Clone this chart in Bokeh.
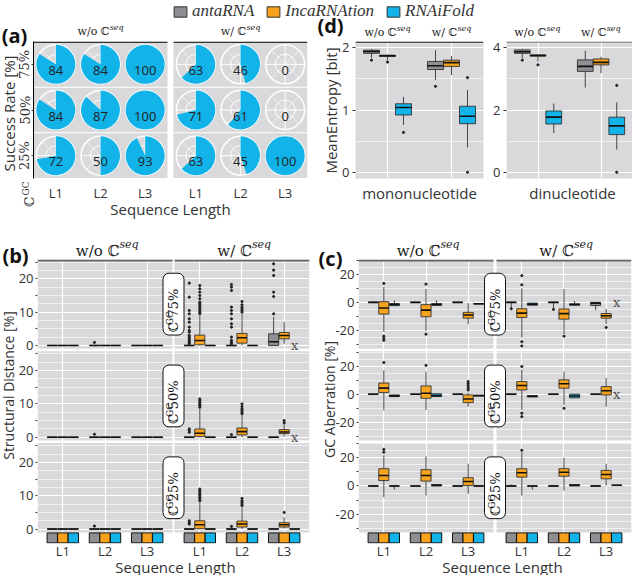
import math
from bokeh.plotting import figure
from bokeh.models import (ColumnDataSource, FixedTicker, Label, Legend, LegendItem,
                          Range1d, Span, GridBox)
from bokeh.layouts import column, row
from bokeh.core.properties import value
from bokeh.embed import file_html
from bokeh.resources import INLINE

SANS = "Open Sans"
SERIF = "DejaVu Serif"
ITALIC_SERIF = "Liberation Serif"
INK = "#333333"
PANEL = "#d9d9db"

# ---------------------------------------------------------------- data
TOOLS = ["antaRNA", "IncaRNAtion", "RNAiFold"]
TOOL_COLORS = ["#8e8e93", "#f6a21d", "#12b3e8"]
CGC_LEVELS = ["75%", "50%", "25%"]
SEQ_LEVELS = ["w/o", "w/"]
LENGTHS = ["L1", "L2", "L3"]

# (a) RNAiFold success rate [%]; order: w/o L1..L3, w/ L1..L3
SUCCESS_75 = [84, 84, 100, 63, 46, 0]
SUCCESS_50 = [84, 87, 100, 71, 61, 0]
SUCCESS_25 = [72, 50, 93, 63, 45, 100]

# (d) mean entropy [bit]; order: w/o (anta, inca, rnai), w/ (anta, inca, rnai)
ENTROPY_KINDS = ["mononucleotide", "dinucleotide"]
MONO_Q1 = [1.91, 1.86, 0.92, 1.65, 1.70, 0.78]
MONO_MED = [1.94, 1.87, 1.04, 1.71, 1.76, 0.90]
MONO_Q3 = [1.96, 1.88, 1.10, 1.78, 1.80, 1.06]
MONO_LO = [1.84, 1.80, 0.76, 1.48, 1.56, 0.40]
MONO_HI = [1.98, 1.89, 1.21, 1.96, 1.87, 1.32]
MONO_OUT = [[1.80], [1.77], [0.64], [1.38], [], [1.52, 0.0]]
DI_Q1 = [3.82, 3.73, 1.55, 3.24, 3.45, 1.21]
DI_MED = [3.87, 3.75, 1.77, 3.40, 3.53, 1.49]
DI_Q3 = [3.93, 3.77, 1.97, 3.61, 3.64, 1.77]
DI_LO = [3.66, 3.55, 1.26, 2.72, 3.18, 0.73]
DI_HI = [3.96, 3.78, 2.21, 3.90, 3.71, 2.24]
DI_OUT = [[3.60], [3.45], [], [], [], [2.79, 0.0]]

# (b) structural distance [%]: (q1, median, q3, lower, upper) per
# w/o L1 (anta, inca, rnai), L2, L3, then w/ L1, L2, L3 ; None = no data
Z = (0, 0, 0, 0, 0)
DIST_75 = [Z, Z, Z, Z, Z, Z, Z, Z, Z,
           Z, (0.2, 1.5, 3.1, 0, 9.0), Z,
           Z, (0.7, 2.3, 3.6, 0, 9.5), Z,
           (0, 1.1, 3.5, 0, 8.5), (2.0, 3.0, 3.9, 0.5, 7.0), None]
DIST_50 = [Z, Z, Z, Z, Z, Z, Z, Z, Z,
           Z, (0.2, 1.2, 2.5, 0, 8.5), Z,
           Z, (0.7, 1.7, 2.8, 0, 6.5), Z,
           Z, (1.1, 1.6, 2.3, 0.2, 3.8), None]
DIST_25 = [Z, Z, Z, Z, Z, Z, Z, Z, Z,
           Z, (0.1, 1.3, 2.5, 0, 8.0), Z,
           Z, (0.6, 1.5, 2.4, 0, 6.5), Z,
           Z, (0.6, 1.3, 1.9, 0.2, 3.5), Z]
DIST_75_OUT = {3: [0.9],
               9: [0.5, 1, 1.5, 2, 2.5, 3, 4, 4.5, 5.5, 7, 8, 9.5, 10.5, 14.5, 18.7],
               10: [9.5, 10, 10.5, 11, 11.5, 12, 12.5, 13, 14, 15, 16, 17, 18],
               12: [0.5, 1, 1.5, 2.5, 5.5, 6.5, 8, 9.5, 10.5, 11.5, 16.5, 17.5, 18.3],
               13: [10, 10.5, 11, 11.5, 12.2, 13.2],
               15: [9.5, 14.7, 16, 21, 22.6, 24.5]}
DIST_50_OUT = {3: [0.9], 9: [1.5, 2, 2.5], 10: [9, 9.5, 10, 10.5, 11, 11.5],
               12: [0.8], 13: [7, 7.5, 8, 8.5, 9.2, 10], 16: [4.3, 5]}
DIST_25_OUT = {3: [0.9], 9: [1.5, 2, 2.5], 10: [8.5, 9, 9.5, 10, 10.5, 11, 11.5, 12],
               12: [0.8], 13: [7, 7.5, 8, 8.5, 9.2], 16: [5]}

# (c) GC aberration [%], same layout as (b)
GC_75 = [Z, (-8.3, -4.0, 0.5, -21, 11), (-2.3, -1.5, -0.8, -2.5, 1.5),
         Z, (-10.2, -5.5, -1.6, -20.2, 9.5), (-2.2, -1.5, -0.8, -2.3, 1.5),
         Z, (-11.2, -9.0, -7.1, -15.5, -0.5), (-1.2, -1.0, -0.8, -1.2, -0.8),
         (0, 0, 0, -3.5, 0), (-10.7, -7.6, -4.5, -25, 10), (-2.0, -1.2, -0.5, -2.0, -0.5),
         (0, 0, 0, -4.0, 0), (-11.9, -8.0, -4.7, -22.6, 9.5), (-2.0, -1.5, -1.0, -2.0, 1.0),
         (-2.2, -0.5, 0, -5.5, 0), (-11.2, -9.5, -7.9, -15.5, -4.7), None]
GC_50 = [Z, (1.1, 4.3, 7.9, -11.5, 17), (-1.7, -1.2, -0.5, -1.7, -0.5),
         Z, (-2.9, 0.7, 5.9, -11.2, 16), (-1.7, -1.0, 0.3, -1.7, 0.3),
         Z, (-6.0, -3.4, -0.5, -8.9, 1.0), (-1.2, -1.0, -0.8, -1.2, -0.8),
         Z, (3.0, 6.2, 9.0, -11.2, 17.4), (-2.0, -1.5, -1.0, -2.0, -1.0),
         Z, (4.3, 7.4, 10.2, -7.6, 16), (-2.6, -1.3, 0, -2.6, 0),
         Z, (-0.5, 2.4, 5.4, -8.9, 11.4), None]
GC_25 = [Z, (3.9, 7.5, 12.3, -8.0, 21.8), (0, 0, 0, -2.5, 0),
         Z, (3.5, 7.5, 11.6, -6.8, 21.0), (0, 0.5, 1.0, 0, 1.0),
         Z, (0.4, 3.2, 5.9, -5.6, 15.8), Z,
         (0, 0, 0, 0, 1.0), (6.3, 9.4, 12.3, -6.8, 24.0), (0, 0, 0, -2.5, 0),
         Z, (7.0, 9.8, 12.3, -3.2, 20.1), (0, 0.5, 1.0, 0, 1.0),
         Z, (5.1, 8.2, 11.1, 0.3, 15.8), (0.5, 0.5, 0.5, 0.5, 0.5)]
GC_75_OUT = {1: [13.5, -24, -25.5, -27], 4: [13, -22.6], 9: [-4.5],
             10: [12.5, 19, -28, -31], 12: [-5], 13: [-24], 16: [-17.8]}
GC_50_OUT = {1: [22.5], 4: [20.5], 7: [3, 4.5, 6, 7.5, 9], 10: [19.7, -13.5, -16],
             13: [-10]}
GC_25_OUT = {1: [24, 26], 10: [25.4]}

PAGE_W, PAGE_H = 632, 575


# ---------------------------------------------------------------- helpers
class Geo:
    """maps between page pixels and data coordinates of one figure"""
    def __init__(self, page_left, page_top, fl, ft, fw, fh, xr, yr):
        self.pl, self.pt, self.fl, self.ft, self.fw, self.fh = page_left, page_top, fl, ft, fw, fh
        self.xr, self.yr = xr, yr
        self.kx = fw / (xr[1] - xr[0])
        self.ky = fh / (yr[1] - yr[0])

    def page_x(self, xd):
        return self.pl + self.fl + (xd - self.xr[0]) * self.kx


def make_fig(w, h, g, br, bb):
    p = figure(width=w, height=h, x_range=Range1d(*g.xr), y_range=Range1d(*g.yr),
               output_backend="svg", toolbar_location=None,
               min_border_left=g.fl, min_border_top=g.ft,
               min_border_right=br, min_border_bottom=bb)
    p.outline_line_color = None
    p.background_fill_color = "white"
    p.border_fill_color = "white"
    for ax in (p.xaxis, p.yaxis):
        ax.major_label_text_font = SANS
        ax.major_label_text_font_size = "13px"
        ax.major_label_text_color = INK
        ax.minor_tick_line_color = None
        ax.major_tick_in = 0
        ax.major_tick_out = 3
        ax.major_tick_line_color = INK
        ax.axis_line_color = None
    return p


def label(p, x, y, text, size, font=SANS, style="normal", angle=0.0, align="center",
          baseline="middle", color=INK, **kw):
    lab = Label(x=x, y=y, text=text, angle=angle, text_align=align, text_baseline=baseline,
                text_font=font, text_font_size=f"{size}px", text_font_style=style,
                text_color=color, **kw)
    p.add_layout(lab)
    return lab


def draw_boxes(p, xs, w, stats, colors, out_x, out_y):
    src = ColumnDataSource(dict(
        x=xs, l=[x - w / 2 for x in xs], r=[x + w / 2 for x in xs],
        q1=[s[0] for s in stats], med=[s[1] for s in stats], q3=[s[2] for s in stats],
        lo=[s[3] for s in stats], hi=[s[4] for s in stats], c=colors))
    p.segment(x0="x", y0="lo", x1="x", y1="hi", source=src, line_color=INK, line_width=0.9)
    p.vbar(x="x", width=w, top="q3", bottom="q1", source=src, fill_color="c",
           line_color=INK, line_width=0.9)
    p.segment(x0="l", y0="med", x1="r", y1="med", source=src, line_color="#111111",
              line_width=1.6)
    if out_x:
        p.scatter(out_x, out_y, size=2.2, color="#222222")


def cgc_box(p, g, x, y, pct):
    label(p, x, y, "\u2102    " + pct, 13, font=SERIF, angle=math.pi / 2, color="#111111",
          background_fill_color="white", border_line_color="#111111", border_line_width=1,
          padding=3, border_radius=6)
    label(p, x - 3.5 / g.kx, y - 14.0 / g.ky, "GC", 9, font=SERIF, angle=math.pi / 2,
          color="#111111")


# ---------------------------------------------------------------- overlay for free texts
ov = figure(width=PAGE_W, height=PAGE_H, x_range=Range1d(0, PAGE_W),
            y_range=Range1d(PAGE_H, 0), x_axis_type=None, y_axis_type=None,
            output_backend="svg", toolbar_location=None, min_border=0)
ov.outline_line_color = None
ov.background_fill_alpha = 0
ov.border_fill_alpha = 0


def strip(xc, y, prefix, size):
    pre_w = (2.84 if prefix == "w/o" else 2.24) * size
    sup_w = 1.25 * size
    total = pre_w + 1 + sup_w
    label(ov, xc - total / 2, y, prefix + " \u2102", size, font=SERIF, align="left",
          color="#222222")
    label(ov, xc - total / 2 + pre_w + 1, y - 0.38 * size, "seq", round(size * 0.72),
          font=SERIF, style="italic", align="left", color="#222222")


items = []
for t, c in zip(TOOLS, TOOL_COLORS):
    r = ov.rect(x=[-1000], y=[-1000], width=1, height=1, fill_color=c, line_color=INK,
                line_width=1)
    items.append(LegendItem(label=t, renderers=[r]))
legend = Legend(items=items, orientation="horizontal", location=(172, PAGE_H - 22),
                glyph_width=16, glyph_height=13, label_standoff=4, spacing=11, padding=0,
                margin=0, label_height=22, label_text_font=ITALIC_SERIF,
                label_text_font_style="italic", label_text_font_size="17px",
                label_text_color="#333333", background_fill_alpha=0, border_line_alpha=0)
ov.add_layout(legend)

# ---------------------------------------------------------------- (a)
ga = Geo(0, 0, 33, 41, 274, 137, (0.5, 0.5 + 274 / (134 / 3)), (0.5, 3.5))
pa = make_fig(316, 225, ga, 9, 47)
A_GAP = 6 / ga.kx
a_cols = [round(1 + l + f * (3 + A_GAP), 4) for f in range(2) for l in range(3)]
a_rows = [3, 2, 1]
half = 22.3 / ga.ky
pa.quad(left=[0.5 + f * (3 + A_GAP) for r in a_rows for f in range(2)],
        right=[3.5 + f * (3 + A_GAP) for r in a_rows for f in range(2)],
        bottom=[r - half for r in a_rows for f in range(2)],
        top=[r + half for r in a_rows for f in range(2)],
        fill_color=PANEL, line_color=None)
pa.segment(x0=[0.5 + f * (3 + A_GAP) for f in range(2)], x1=[3.5 + f * (3 + A_GAP) for f in range(2)],
           y0=[3.5 - 0.6 / ga.ky] * 2, y1=[3.5 - 0.6 / ga.ky] * 2, line_color="black", line_width=1.2)
pie_x, pie_y, pie_v = [], [], []
for r, vals in zip(a_rows, [SUCCESS_75, SUCCESS_50, SUCCESS_25]):
    for j, v in enumerate(vals):
        pie_x.append(a_cols[j]); pie_y.append(r); pie_v.append(v)
R = 19.5
pa.circle(pie_x, pie_y, radius=R, radius_units="screen", fill_color=None,
          line_color="white", line_width=1.5)
pa.circle(pie_x, pie_y, radius=10, radius_units="screen", fill_color=None,
          line_color="white", line_width=1)
for k in range(8):
    pa.ray(pie_x, pie_y, length=R, length_units="screen", angle=k * math.pi / 4,
           line_color="white", line_width=1.0 if k % 2 == 0 else 0.6)
wx = [x for x, v in zip(pie_x, pie_v) if v > 0]
wy = [y for y, v in zip(pie_y, pie_v) if v > 0]
wv = [v for v in pie_v if v > 0]
pa.wedge(wx, wy, radius=R, radius_units="screen", start_angle=math.pi / 2,
         end_angle=[math.pi / 2 - 2 * math.pi * min(v, 99.999) / 100 for v in wv],
         direction="clock", fill_color=TOOL_COLORS[2], line_color=None)
pa.text(pie_x, [y - 6 / ga.ky for y in pie_y], text=[str(v) for v in pie_v],
        text_font=value(SANS), text_font_size="13px", text_color="#222222",
        text_align="center", text_baseline="middle")
pa.grid.visible = False
pa.yaxis.ticker = FixedTicker(ticks=a_rows)
pa.yaxis.major_label_overrides = {3: "75%", 2: "50%", 1: "25%"}
pa.yaxis.major_label_orientation = "vertical"
pa.yaxis.major_label_text_font = SERIF
pa.yaxis.major_tick_out = 2
pa.yaxis.major_label_standoff = -1
pa.yaxis.axis_line_color = "black"
pa.xaxis.ticker = FixedTicker(ticks=a_cols)
pa.xaxis.major_label_overrides = {c: LENGTHS[i % 3] for i, c in enumerate(a_cols)}
pa.xaxis.major_tick_line_color = None
pa.xaxis.major_tick_out = 0
pa.xaxis.major_label_standoff = 5
for f, pre in enumerate(SEQ_LEVELS):
    strip(ga.page_x(2 + f * (3 + A_GAP)), 31, pre, 11)
label(ov, 14, 35, "(a)", 20, style="bold", color="#111111")
label(ov, 8, 113, "Success Rate [%]", 15, angle=math.pi / 2)
label(ov, 170, 208, "Sequence Length", 15)
label(ov, 29, 201, "\u2102", 13, font=SERIF, angle=math.pi / 2)
label(ov, 25.5, 188, "GC", 9, font=SERIF, angle=math.pi / 2)


# ---------------------------------------------------------------- (d)
def entropy_fig(g, w, br, q1, med, q3, lo, hi, outs, ticks, minor, strip_col):
    p = make_fig(w, 225, g, br, 45)
    p.background_fill_color = PANEL
    p.xaxis.visible = False
    p.xgrid.ticker = FixedTicker(ticks=[1, 2])
    t = FixedTicker(ticks=ticks, minor_ticks=minor)
    p.yaxis.ticker = t
    p.ygrid.ticker = t
    p.yaxis.major_label_standoff = 2
    p.grid.grid_line_color = "white"
    p.grid.grid_line_width = 1.2
    p.ygrid.minor_grid_line_color = "white"
    p.ygrid.minor_grid_line_width = 0.6
    xs = [g_ + (t_ - 1) * 0.25 for g_ in (1, 2) for t_ in range(3)]
    ox, oy = [], []
    for x, o in zip(xs, outs):
        ox += [x] * len(o); oy += o
    draw_boxes(p, xs, 0.25, list(zip(q1, med, q3, lo, hi)), TOOL_COLORS * 2, ox, oy)
    p.add_layout(Span(location=g.yr[1] - 0.6 / g.ky, dimension="width",
                      line_color=strip_col, line_width=1.4))
    for f, pre in enumerate(SEQ_LEVELS):
        strip(g.page_x(1 + f), 32, pre, 11)
    return p


gd1 = Geo(316, 0, 39, 41, 128, 139, (0.5, 2.5), (-0.1, 2.1))
pd1 = entropy_fig(gd1, 174, 7, MONO_Q1, MONO_MED, MONO_Q3, MONO_LO, MONO_HI, MONO_OUT,
                  [0, 1, 2], [0.5, 1.5], "#222222")
gd2 = Geo(490, 0, 15, 41, 127, 139, (0.5, 2.5), (-0.2, 4.2))
pd2 = entropy_fig(gd2, 142, 0, DI_Q1, DI_MED, DI_Q3, DI_LO, DI_HI, DI_OUT,
                  [0, 2, 4], [1, 3], "#808080")
label(ov, 330, 25, "(d)", 20, style="bold", color="#111111")
label(ov, 330, 110, "MeanEntropy [bit]", 15, angle=math.pi / 2)
label(ov, 419, 192, ENTROPY_KINDS[0], 15)
label(ov, 572, 192, ENTROPY_KINDS[1], 15)


# ---------------------------------------------------------------- (b), (c)
def facet_panel(page_left, fl, fw, br, gap_px, lims, rows, outs, axis_ticks, labeled,
                minor_step):
    lo, hi = lims
    RH, RG, fh = 89.3, 2.5, 284
    SB = fh - 3 * RH - 2 * RG
    ky = RH / (hi - lo)
    P = (RH + RG) / ky
    kx = 135 / 3.2
    g = Geo(page_left, 225, fl, 34, fw, fh, (0.4, 0.4 + fw / kx), (lo - SB / ky, 2 * P + hi))
    p = make_fig(316, 350, g, br, 32)
    gap_u = gap_px / kx
    starts = [0.4 + f * (3.2 + gap_u) for f in range(2)]
    cats = [round(starts[f] + 0.6 + l, 4) for f in range(2) for l in range(3)]
    bases = [2 * P, P, 0.0]
    bg = p.quad(left=[s for b in bases for s in starts],
                right=[s + 3.2 for b in bases for s in starts],
                bottom=[b + lo for b in bases for s in starts],
                top=[b + hi for b in bases for s in starts],
                fill_color=PANEL, line_color=None)
    bg.level = "image"
    ticks, overrides, gmaj, gmin = [], {}, [], []
    for b in bases:
        for tv in axis_ticks:
            k = round(b + tv, 4)
            ticks.append(k)
            overrides[k] = str(tv) if tv in labeled else ""
        v = math.ceil(lo / minor_step) * minor_step
        while v <= hi + 1e-9:
            (gmaj if v in labeled else gmin).append(round(b + v, 4))
            v += minor_step
    p.yaxis.ticker = FixedTicker(ticks=ticks)
    p.yaxis.major_label_overrides = overrides
    p.yaxis.major_tick_out = 2
    p.yaxis.major_label_standoff = 2
    p.ygrid.ticker = FixedTicker(ticks=gmaj, minor_ticks=gmin)
    p.xaxis.ticker = FixedTicker(ticks=cats)
    p.xgrid.ticker = FixedTicker(ticks=cats)
    p.xaxis.major_label_overrides = {c: LENGTHS[i % 3] for i, c in enumerate(cats)}
    p.xaxis.major_tick_line_color = None
    p.xaxis.major_tick_out = 0
    p.xaxis.major_label_standoff = -2
    p.grid.grid_line_color = "white"
    p.grid.grid_line_width = 1.2
    p.ygrid.minor_grid_line_color = "white"
    p.ygrid.minor_grid_line_width = 0.6
    for r, (b, stats, out) in enumerate(zip(bases, rows, outs)):
        xs, st, cols, ox, oy, nx = [], [], [], [], [], []
        for idx, s in enumerate(stats):
            f, rem = divmod(idx, 9)
            l, t = divmod(rem, 3)
            x = cats[f * 3 + l] + (t - 1) * 0.25
            if s is None:
                nx.append(x)
                continue
            xs.append(x)
            st.append(tuple(b + v for v in s))
            cols.append(TOOL_COLORS[t])
            for o in out.get(idx, []):
                ox.append(x); oy.append(b + o)
        draw_boxes(p, xs, 0.24, st, cols, ox, oy)
        if nx:
            p.text(nx, [b] * len(nx), text=["x"] * len(nx), text_font=value(SERIF),
                   text_font_size="13px", text_color="#555555", text_align="center",
                   text_baseline="middle")
        cgc_box(p, g, starts[0] + 3.2 + gap_u / 2, b + (lo + hi) / 2, CGC_LEVELS[r])
    yl = g.yr[1] - 1.0 / ky
    p.segment(x0=starts, x1=[s + 3.2 for s in starts], y0=[yl, yl], y1=[yl, yl],
              line_color="#666666", line_width=2)
    kx_, kc = [], []
    for c in cats:
        for t in range(3):
            kx_.append(c + (t - 1) * 0.25); kc.append(TOOL_COLORS[t])
    p.vbar(x=kx_, width=0.245, top=lo - 0.5 / ky, bottom=lo - 10.5 / ky, fill_color=kc,
           line_color="#111111", line_width=1)
    for f, pre in enumerate(SEQ_LEVELS):
        strip(g.page_x(starts[f] + 1.6) + 2, 250, pre, 15)
    return p


pb = facet_panel(0, 37, 272, 7, 2, (-1, 25.8), [DIST_75, DIST_50, DIST_25],
                 [DIST_75_OUT, DIST_50_OUT, DIST_25_OUT], [0, 5, 10, 15, 20, 25],
                 [0, 10, 20], 2.5)
label(ov, 8, 385, "Structural Distance [%]", 14, angle=math.pi / 2)
label(ov, 15, 255, "(b)", 20, style="bold", color="#111111")
label(ov, 175, 566, "Sequence Length", 15)

pc = facet_panel(316, 42, 273, 1, 3, (-33, 30.5), [GC_75, GC_50, GC_25],
                 [GC_75_OUT, GC_50_OUT, GC_25_OUT], [-30, -20, -10, 0, 10, 20, 30],
                 [-20, 0, 20], 5)
label(ov, 329, 399, "GC Aberration [%]", 14, angle=math.pi / 2)
label(ov, 330, 258, "(c)", 20, style="bold", color="#111111")
label(ov, 502, 566, "Sequence Length", 15)

main = column(row(pa, pd1, pd2), row(pb, pc))
root = GridBox(children=[(main, 0, 0), (ov, 0, 0)])
open("out.html", "w").write(file_html(root, INLINE))
